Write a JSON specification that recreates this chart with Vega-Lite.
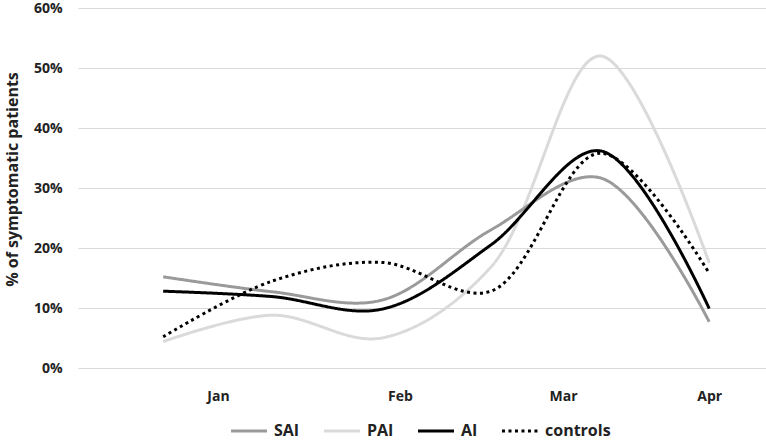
{
  "$schema": "https://vega.github.io/schema/vega-lite/v6.json",
  "width": 688,
  "height": 360,
  "autosize": {"type": "none"},
  "padding": {"left": 78, "top": 8, "right": 0, "bottom": 74},
  "background": "white",
  "config": {
    "view": {"stroke": null},
    "font": "Open Sans",
    "axis": {"labelFont": "Open Sans", "titleFont": "Open Sans"},
    "legend": {"labelFont": "Open Sans"}
  },
  "data": {
    "values": [
      {"t": 0, "group": "PAI", "value": 0.044},
      {"t": 1, "group": "PAI", "value": 0.088},
      {"t": 2, "group": "PAI", "value": 0.05},
      {"t": 3, "group": "PAI", "value": 0.168},
      {"t": 4, "group": "PAI", "value": 0.52},
      {"t": 5, "group": "PAI", "value": 0.175},
      {"t": 0, "group": "SAI", "value": 0.152},
      {"t": 1, "group": "SAI", "value": 0.127},
      {"t": 2, "group": "SAI", "value": 0.113},
      {"t": 3, "group": "SAI", "value": 0.23},
      {"t": 4, "group": "SAI", "value": 0.317},
      {"t": 5, "group": "SAI", "value": 0.077},
      {"t": 0, "group": "AI", "value": 0.128},
      {"t": 1, "group": "AI", "value": 0.119},
      {"t": 2, "group": "AI", "value": 0.098},
      {"t": 3, "group": "AI", "value": 0.205},
      {"t": 4, "group": "AI", "value": 0.362},
      {"t": 5, "group": "AI", "value": 0.099},
      {"t": 0, "group": "controls", "value": 0.052},
      {"t": 1, "group": "controls", "value": 0.145},
      {"t": 2, "group": "controls", "value": 0.176},
      {"t": 3, "group": "controls", "value": 0.128},
      {"t": 4, "group": "controls", "value": 0.358},
      {"t": 5, "group": "controls", "value": 0.158}
    ]
  },
  "mark": {"type": "line", "interpolate": "catmull-rom", "strokeWidth": 3, "strokeCap": "butt"},
  "encoding": {
    "x": {
      "field": "t",
      "type": "quantitative",
      "scale": {"domain": [-0.78, 5.52], "nice": false, "zero": false},
      "axis": {
        "values": [0.502, 2.168, 3.661, 5],
        "labelExpr": "datum.value < 1 ? 'Jan' : datum.value < 3 ? 'Feb' : datum.value < 4.5 ? 'Mar' : 'Apr'",
        "grid": false,
        "domain": false,
        "ticks": false,
        "title": null,
        "labelFontSize": 14,
        "labelFontWeight": "bold",
        "labelColor": "#222222",
        "labelPadding": 21,
        "labelFlush": false
      }
    },
    "y": {
      "field": "value",
      "type": "quantitative",
      "scale": {"domain": [0, 0.6], "nice": false},
      "axis": {
        "values": [0, 0.1, 0.2, 0.3, 0.4, 0.5, 0.6],
        "format": ".0%",
        "grid": true,
        "gridColor": "#d9d9d9",
        "gridWidth": 1,
        "domain": false,
        "ticks": false,
        "labelFontSize": 14,
        "labelFontWeight": "bold",
        "labelColor": "#222222",
        "labelPadding": 16,
        "title": "% of symptomatic patients",
        "titleFontSize": 16,
        "titleFontWeight": "bold",
        "titleColor": "#222222",
        "titleX": -58,
        "titleY": 171
      }
    },
    "color": {
      "field": "group",
      "type": "nominal",
      "scale": {"domain": ["SAI", "PAI", "AI", "controls"], "range": ["#9a9a9a", "#dadada", "#000000", "#000000"]},
      "legend": {
        "title": null,
        "orient": "none",
        "direction": "horizontal",
        "legendX": 151,
        "legendY": 403,
        "symbolType": "stroke",
        "symbolSize": 1300,
        "symbolStrokeWidth": 3,
        "labelFontSize": 16,
        "labelFontWeight": "bold",
        "labelColor": "#222222",
        "labelOffset": 5,
        "columnPadding": 17
      }
    },
    "strokeDash": {
      "field": "group",
      "type": "nominal",
      "scale": {"domain": ["SAI", "PAI", "AI", "controls"], "range": [[1, 0], [1, 0], [1, 0], [3, 3.5]]}
    },
    "order": {"field": "t"}
  }
}
